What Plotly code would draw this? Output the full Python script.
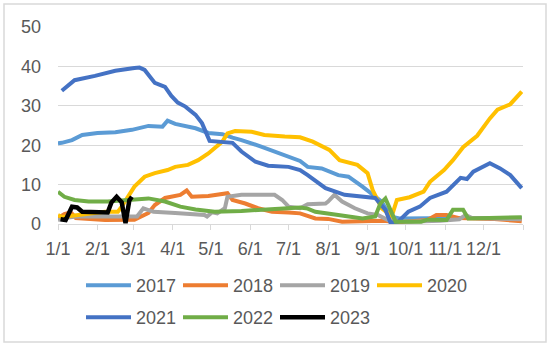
import datetime as dt
import plotly.graph_objects as go

# ---- data (day-of-year offsets from 1/1, values) ----
days_2017 = [0, 3, 11, 19, 31, 45, 58, 71, 82, 86, 92, 108, 118, 129, 137, 144, 160, 170, 181, 190, 196, 207, 220, 228, 239, 249, 254, 261, 268, 316, 364]
vals_2017 = [20.5, 20.6, 21.3, 22.6, 23.1, 23.3, 23.9, 24.9, 24.7, 26.2, 25.4, 24.3, 23.1, 22.8, 21.9, 21.3, 19.6, 18.4, 17.1, 16.0, 14.5, 14.1, 12.4, 12.0, 9.5, 6.9, 5.7, 1.9, 1.4, 1.5, 1.5]

days_2018 = [0, 5, 10, 14, 37, 50, 60, 71, 76, 84, 96, 101, 105, 118, 133, 137, 147, 157, 168, 181, 190, 202, 212, 223, 239, 254, 270, 290, 297, 305, 315, 340, 364]
vals_2018 = [1.5, 2.5, 3.0, 1.5, 1.0, 1.0, 1.1, 2.8, 4.8, 6.6, 7.4, 8.5, 6.9, 7.1, 7.8, 6.1, 5.2, 4.0, 3.1, 2.9, 2.7, 1.4, 1.3, 0.6, 0.6, 0.8, 0.5, 1.0, 2.3, 2.3, 1.5, 1.3, 0.7]

days_2019 = [0, 5, 14, 45, 62, 67, 75, 92, 111, 115, 117, 121, 125, 131, 133, 144, 170, 176, 181, 190, 196, 210, 212, 217, 223, 233, 243, 251, 259, 275, 300, 315, 320, 325, 364]
vals_2019 = [1.0, 1.5, 1.9, 1.9, 1.9, 4.0, 3.1, 2.8, 2.3, 2.3, 1.9, 3.0, 2.7, 4.0, 6.9, 7.4, 7.4, 6.1, 4.4, 4.0, 5.0, 5.2, 5.7, 7.4, 5.7, 4.0, 2.7, 2.3, 1.0, 0.6, 0.8, 1.2, 2.3, 1.5, 1.2]

days_2020 = [0, 3, 37, 47, 50, 55, 60, 68, 76, 86, 92, 102, 110, 118, 123, 129, 133, 139, 152, 162, 178, 190, 200, 213, 221, 235, 243, 247, 254, 262, 266, 276, 287, 292, 303, 310, 318, 329, 339, 345, 355, 364]
vals_2020 = [2.3, 1.8, 3.1, 3.1, 4.4, 6.9, 9.5, 12.0, 12.9, 13.7, 14.5, 15.0, 16.2, 17.9, 19.2, 20.9, 23.0, 23.6, 23.4, 22.6, 22.2, 22.0, 20.9, 18.8, 16.2, 15.0, 12.9, 8.6, 4.0, 2.0, 6.1, 6.8, 8.2, 10.7, 13.7, 16.2, 19.5, 22.4, 26.8, 29.0, 30.4, 33.6]

days_2021 = [3, 13, 29, 45, 60, 64, 68, 72, 76, 80, 84, 89, 94, 100, 108, 113, 119, 137, 144, 155, 165, 181, 190, 196, 210, 225, 249, 257, 261, 267, 275, 284, 292, 305, 316, 321, 326, 339, 347, 355, 364]
vals_2021 = [33.8, 36.5, 37.6, 38.9, 39.6, 39.7, 39.1, 37.5, 35.8, 35.3, 34.8, 32.5, 30.8, 29.8, 27.7, 25.6, 21.1, 20.6, 18.4, 15.8, 14.8, 14.5, 13.7, 12.4, 9.1, 7.4, 6.6, 3.6, 0.3, 0.6, 3.1, 4.4, 6.6, 8.2, 11.7, 11.4, 13.3, 15.4, 14.1, 12.4, 9.1]

days_2022 = [0, 5, 13, 24, 39, 58, 71, 84, 96, 108, 123, 144, 160, 176, 190, 196, 202, 220, 239, 249, 253, 257, 261, 265, 285, 290, 305, 310, 318, 322, 364]
vals_2022 = [8.2, 6.9, 6.1, 5.7, 5.7, 6.1, 6.5, 5.7, 4.4, 3.7, 3.1, 3.3, 3.6, 3.7, 4.2, 3.9, 3.1, 2.3, 1.4, 1.9, 5.2, 6.5, 3.6, 0.6, 0.6, 1.1, 1.0, 3.6, 3.6, 1.4, 1.7]

days_2023 = [2, 6, 11, 15, 19, 31, 39, 42, 46, 50, 53, 56, 58]
vals_2023 = [1.2, 1.0, 4.4, 4.2, 3.1, 3.1, 2.9, 5.5, 6.9, 5.5, 0.2, 6.0, 6.9]

series_names = ["2017", "2018", "2019", "2020", "2021", "2022", "2023"]
series_days = [days_2017, days_2018, days_2019, days_2020, days_2021, days_2022, days_2023]
series_vals = [vals_2017, vals_2018, vals_2019, vals_2020, vals_2021, vals_2022, vals_2023]
colors = ["#5B9BD5", "#ED7D31", "#A5A5A5", "#FFC000", "#4472C4", "#70AD47", "#000000"]

month_labels = ["1/1", "2/1", "3/1", "4/1", "5/1", "6/1", "7/1", "8/1", "9/1", "10/1", "11/1", "12/1"]
y_ticks = [0, 10, 20, 30, 40, 50]

base = dt.date(2021, 1, 1)
def to_dates(ds):
    return [base + dt.timedelta(days=d) for d in ds]

tick_dates = [dt.date(2021, m, 1) for m in range(1, 13)] + [dt.date(2022, 1, 1)]
tick_text = month_labels + [""]

FONT = "Liberation Sans"
FS = 18
TXT = "#595959"
GRID = "#D9D9D9"

fig = go.Figure()
for i, (name, ds, vs, c) in enumerate(zip(series_names, series_days, series_vals, colors)):
    fig.add_trace(go.Scatter(
        x=to_dates(ds), y=vs, name=name, mode="lines",
        line=dict(color=c, width=4.5 if name == "2023" else 4),
        legend="legend" if i < 4 else "legend2",
    ))

legend_common = dict(
    orientation="h", xref="container", yref="container",
    xanchor="left", yanchor="middle",
    font=dict(family=FONT, size=FS, color=TXT),
    itemwidth=45, entrywidth=37, entrywidthmode="pixels",
    bgcolor="rgba(0,0,0,0)", tracegroupgap=0,
)

fig.update_layout(
    width=550, height=346,
    margin=dict(l=58, r=27, t=27, b=122, autoexpand=False),
    paper_bgcolor="white", plot_bgcolor="white",
    font=dict(family=FONT, size=FS, color=TXT),
    showlegend=True,
    legend=dict(x=81 / 550, y=1 - 285.5 / 346, **legend_common),
    legend2=dict(x=81 / 550, y=1 - 317.5 / 346, **legend_common),
    xaxis=dict(
        type="date", automargin=False,
        range=[dt.date(2021, 1, 1), dt.date(2022, 1, 1)],
        tickmode="array", tickvals=tick_dates, ticktext=tick_text,
        showgrid=False, showline=True, linecolor=GRID, linewidth=1,
        ticks="outside", ticklen=5, tickcolor=GRID, tickwidth=1,
        tickfont=dict(family=FONT, size=FS, color=TXT),
        ticklabelstandoff=3,
        zeroline=False,
    ),
    yaxis=dict(
        range=[0, 50], tickvals=y_ticks, automargin=False,
        showgrid=True, gridcolor=GRID, gridwidth=1,
        zeroline=False, showline=False, ticks="",
        tickfont=dict(family=FONT, size=FS, color=TXT),
        ticklabelstandoff=16,
    ),
    shapes=[dict(
        type="rect", xref="paper", yref="paper",
        x0=(4 - 58) / 465, x1=(546 - 58) / 465,
        y0=(224 - 342) / 197, y1=(224 - 4) / 197,
        line=dict(color=GRID, width=1.5), fillcolor="rgba(0,0,0,0)", layer="below",
    )],
)

fig.write_html("out.html")
